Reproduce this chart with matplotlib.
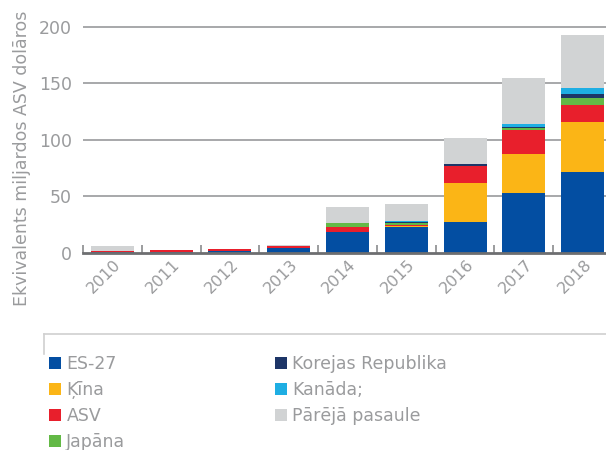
import matplotlib
matplotlib.use("Agg")
import matplotlib.pyplot as plt
from matplotlib.patches import Patch
from matplotlib.lines import Line2D
import matplotlib.transforms as mtransforms
import numpy as np

years = ["2010", "2011", "2012", "2013", "2014", "2015", "2016", "2017", "2018"]
series_names = ["ES-27", "Ķīna", "ASV", "Japāna", "Korejas Republika", "Kanāda;", "Pārējā pasaule"]
es27   = [0.3, 0.5, 1.3, 4.0, 18.2, 22.6, 27.1, 52.8, 71.4]
kina   = [0.0, 0.0, 0.0, 0.0, 0.0, 0.9, 34.6, 34.6, 44.4]
asv    = [1.2, 1.5, 1.7, 2.0, 4.4, 0.9, 15.1, 21.3, 15.1]
japana = [0.0, 0.0, 0.0, 0.0, 3.3, 1.5, 0.0, 1.8, 6.2]
koreja = [0.0, 0.0, 0.0, 0.0, 0.0, 1.2, 1.7, 0.9, 3.5]
kanada = [0.0, 0.0, 0.0, 0.0, 0.5, 0.5, 0.0, 2.6, 5.3]
parejie = [4.0, 0.3, 0.0, 0.3, 14.0, 15.0, 23.1, 40.8, 47.1]
yticks = [0, 50, 100, 150, 200]

colors = ["#034ea2", "#fbb516", "#e81f2c", "#63b946", "#1d3567", "#1eaee3", "#d1d3d4"]
text_gray = "#9a9b9d"

fig = plt.figure(figsize=(6.06, 4.5), dpi=100)
W, H = 606, 450
ax = fig.add_axes([83 / W, 197.5 / H, (612 - 83) / W, 231 / H])

data = [es27, kina, asv, japana, koreja, kanada, parejie]
x = np.arange(len(years))
bottom = np.zeros(len(years))
for vals, c, name in zip(data, colors, series_names):
    v = np.array(vals)
    ax.bar(x, v, bottom=bottom, width=0.73, color=c, label=name, zorder=3, linewidth=0)
    bottom += v

ax.set_xlim(-0.5, len(years) - 0.5)
ax.set_ylim(0, 205)
ax.set_yticks(yticks)
ax.set_yticklabels([str(t) for t in yticks], color=text_gray, fontsize=12.5)
ax.tick_params(axis="y", length=0, pad=8)
for t in yticks[1:]:
    ax.axhline(t, color="#a7a8aa", linewidth=1.4, zorder=1)

ax.set_xticks(x)
ax.set_xticklabels(years, rotation=45, color=text_gray, fontsize=11.5)
ax.tick_params(axis="x", length=0, pad=3)
shift = mtransforms.ScaledTranslation(-8 / 100, 0, fig.dpi_scale_trans)
for lbl in ax.get_xticklabels():
    lbl.set_transform(lbl.get_transform() + shift)
ax.set_xticks(np.arange(-0.5, len(years) - 0.5, 1.0), minor=True)
ax.tick_params(axis="x", which="minor", direction="in", length=6, width=1.2, color="#8a8b8d")

for s in ["top", "right", "left"]:
    ax.spines[s].set_visible(False)
ax.spines["bottom"].set_color("#6d6e70")
ax.spines["bottom"].set_linewidth(2)
ax.spines["bottom"].set_zorder(4)

fig.text(22 / W, 1 - 158 / H, "Ekvivalents miljardos ASV dolāros", rotation=90,
         ha="center", va="center", color=text_gray, fontsize=12.5)

# legend frame (top and left edge)
fig.add_artist(Line2D([44 / W, 1.0], [1 - 334 / H, 1 - 334 / H], color="#d0d0d0", linewidth=1.2))
fig.add_artist(Line2D([44 / W, 44 / W], [1 - 334 / H, 1 - 354 / H], color="#d0d0d0", linewidth=1.2))

handles = [Patch(facecolor=c, edgecolor="none") for c in colors]
leg = fig.legend(handles, series_names, ncol=2, loc="upper left",
                 bbox_to_anchor=(49 / W, 1 - 355 / H), frameon=False,
                 fontsize=12.5, handlelength=0.7, handleheight=0.7, handletextpad=0.3,
                 labelspacing=0.46, columnspacing=8.6, borderpad=0, borderaxespad=0)
for t in leg.get_texts():
    t.set_color(text_gray)

fig.savefig("out.png", dpi=100)
